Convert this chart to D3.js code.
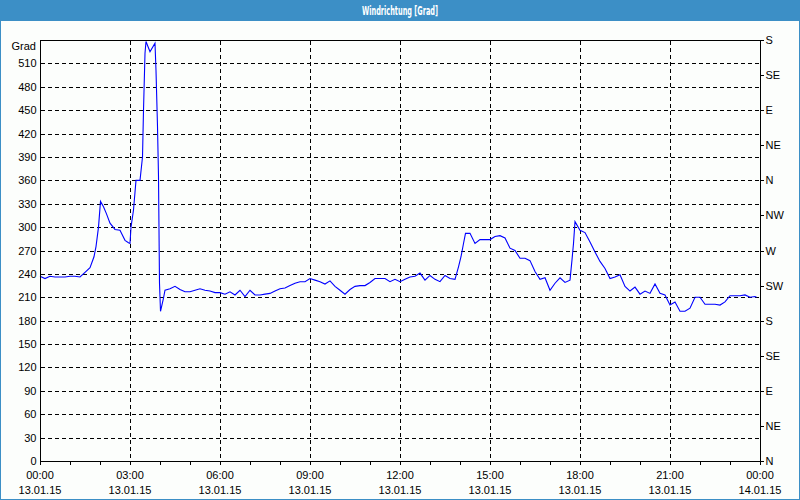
<!DOCTYPE html>
<html>
<head>
<meta charset="utf-8">
<script src="https://cdn.jsdelivr.net/npm/d3@7"></script>
<style>
  html, body { margin: 0; padding: 0; background: #fcfefc; }
  svg { display: block; }
  text { font-family: "Liberation Sans", Arial, sans-serif; font-size: 11px; fill: #000; }
</style>
</head>
<body>
<svg id="chart" width="800" height="500"></svg>
<script>
// ---- data (minutes after 13.01.15 00:00, wind direction in degrees) ----
const minutes = [0,10,20,30,40,50,60,70,80,90,100,108,112,117,121,127,133,140,150,160,170,177,180,182,187,192,200,205,207,210,212,220,230,232,235,237,238,239,241,247,250,260,270,280,290,300,310,320,330,340,350,360,370,380,390,400,410,420,430,440,450,460,470,480,490,500,510,520,530,540,550,560,570,580,590,600,610,620,630,640,650,660,670,680,690,700,710,720,730,740,750,760,770,780,790,800,810,820,830,837,842,847,851,860,870,880,890,900,910,920,930,940,950,960,970,980,990,1000,1010,1020,1030,1040,1050,1060,1064,1067,1070,1080,1090,1100,1110,1120,1130,1140,1150,1160,1170,1180,1190,1200,1210,1220,1230,1240,1250,1260,1270,1280,1290,1300,1310,1320,1330,1340,1350,1360,1370,1380,1390,1400,1410,1420,1430,1433];
const degrees = [237,234,237,236,236,236,237,237,236,242,248,262,275,300,333,326,317,305,297,296,283,280,279,300,322,360,360,390,450,523,538,525,536,501,429,365,296,228,192,209,219,221,224,220,217,217,219,221,219,218,216,216,214,217,213,219,211,219,213,213,214,215,218,221,222,225,228,230,230,234,232,230,227,231,224,219,214,220,224,225,225,229,234,234,234,230,233,230,233,236,237,241,232,238,233,230,238,234,233,249,262,279,292,292,279,284,284,284,288,289,286,273,270,260,260,257,243,233,235,219,228,235,229,232,258,279,307,296,293,281,268,256,247,234,236,239,224,218,223,214,218,215,227,215,213,200,204,192,192,196,210,210,201,201,201,200,204,212,212,212,213,210,211,210];
const leftTicks = d3.range(0, 511, 30);
const rightTicks = d3.range(0, 541, 45);
const rightLabels = ["N","NE","E","SE","S","SW","W","NW","N","NE","E","SE","S"];
const timeTickHours = [0,3,6,9,12,15,18,21,24];
const title = "Windrichtung [Grad]";
const yUnit = "Grad";

const start = new Date(2015, 0, 13, 0, 0);
const end = new Date(2015, 0, 14, 0, 0);
const data = minutes.map((m, i) => ({ t: new Date(start.getTime() + m * 60000), v: degrees[i] }));

const svg = d3.select("#chart");
const L = 40, R = 760, T = 40, B = 461;

// frame / title bar
svg.append("rect").attr("x", 0).attr("y", 0).attr("width", 800).attr("height", 500).attr("fill", "#fcfefc");
svg.append("rect").attr("x", 0).attr("y", 0).attr("width", 800).attr("height", 21).attr("fill", "#3c8fc6");
svg.append("rect").attr("x", 0.5).attr("y", 0.5).attr("width", 799).attr("height", 499)
  .attr("fill", "none").attr("stroke", "#3c8fc6").attr("stroke-width", 1);
svg.append("text").attr("x", 400).attr("y", 14.5).attr("text-anchor", "middle")
  .style("font-family", "'Liberation Sans Narrow', 'DejaVu Sans Condensed', 'Liberation Sans', sans-serif")
  .style("font-weight", "bold").style("font-size", "12px").style("fill", "#ffffff")
  .attr("textLength", 76).attr("lengthAdjust", "spacingAndGlyphs")
  .text(title);

const x = d3.scaleTime().domain([start, end]).range([L, R]);
const y = d3.scaleLinear().domain([0, 540]).range([B, T]);
const px = v => Math.round(v) + 0.5;

// grid
const grid = svg.append("g").attr("stroke", "#000").attr("stroke-width", 1)
  .attr("stroke-dasharray", "4,3").attr("shape-rendering", "crispEdges");
grid.selectAll("line.h").data(leftTicks.filter(d => d > 0)).join("line")
  .attr("x1", L + 1).attr("x2", R).attr("y1", d => px(y(d))).attr("y2", d => px(y(d)));
grid.selectAll("line.v").data(timeTickHours.filter(h => h > 0 && h < 24)).join("line")
  .attr("y1", T + 1).attr("y2", B).attr("x1", h => px(x(new Date(start.getTime() + h * 3600000))))
  .attr("x2", h => px(x(new Date(start.getTime() + h * 3600000))));

// top frame line
svg.append("line").attr("x1", L).attr("x2", R + 1).attr("y1", px(T)).attr("y2", px(T))
  .attr("stroke", "#000").attr("shape-rendering", "crispEdges");

// line
svg.append("path").datum(data)
  .attr("fill", "none").attr("stroke", "#0000ff").attr("stroke-width", 1.1)
  .attr("d", d3.line().x(d => x(d.t)).y(d => y(d.v)));

// left axis
const gl = svg.append("g").attr("transform", `translate(${px(L)},0)`)
  .call(d3.axisLeft(y).tickValues(leftTicks).tickSize(0).tickPadding(4));
gl.select(".domain").attr("stroke", "#000").attr("shape-rendering", "crispEdges").attr("d", `M0,${T}V${B + 1}`);
gl.selectAll("text").style("font-family", "'Liberation Sans', Arial, sans-serif").style("font-size", "11px");
svg.append("text").attr("x", 36).attr("y", 50).attr("text-anchor", "end").text(yUnit);

// right axis
const gr = svg.append("g").attr("transform", `translate(${px(R)},0)`)
  .call(d3.axisRight(y).tickValues(rightTicks).tickSize(3).tickPadding(2)
    .tickFormat((d, i) => rightLabels[i]));
gr.select(".domain").attr("stroke", "#000").attr("shape-rendering", "crispEdges").attr("d", `M0,${T}V${B + 1}`);
gr.selectAll("line").attr("shape-rendering", "crispEdges");
gr.selectAll("text").style("font-family", "'Liberation Sans', Arial, sans-serif").style("font-size", "11px");

// bottom axis (hourly ticks)
const hourTicks = d3.range(0, 25).map(h => new Date(start.getTime() + h * 3600000));
const gb = svg.append("g").attr("transform", `translate(0,${px(B)})`)
  .call(d3.axisBottom(x).tickValues(hourTicks).tickSize(3).tickFormat(""));
gb.select(".domain").attr("stroke", "#000").attr("shape-rendering", "crispEdges").attr("d", `M${L},0H${R + 1}`);
gb.selectAll("line").attr("shape-rendering", "crispEdges");

const fmtTime = d3.timeFormat("%H:%M");
const fmtDate = d3.timeFormat("%d.%m.%y");
const lab = svg.append("g");
timeTickHours.forEach(h => {
  const d = new Date(start.getTime() + h * 3600000);
  lab.append("text").attr("x", x(d)).attr("y", 479).attr("text-anchor", "middle").text(fmtTime(d));
  lab.append("text").attr("x", x(d)).attr("y", 494).attr("text-anchor", "middle").text(fmtDate(d));
});
</script>
</body>
</html>
